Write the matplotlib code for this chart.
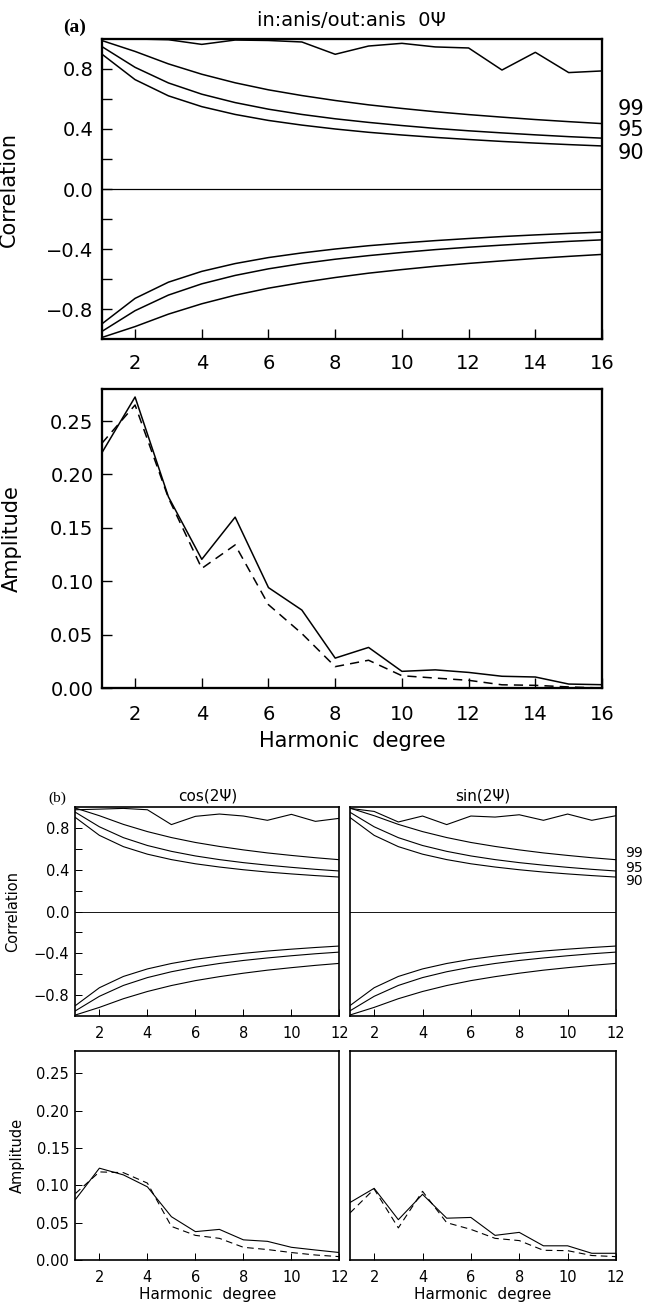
import numpy as np
import matplotlib.pyplot as plt

plt.rcParams['font.family'] = ['DejaVu Sans']

# harmonic degrees
deg_a = np.arange(1, 17)
deg_b = np.arange(1, 13)

# significance levels of the correlation coefficient
sig99 = [0.990, 0.917, 0.834, 0.765, 0.708, 0.661, 0.623, 0.590,
         0.561, 0.537, 0.515, 0.496, 0.479, 0.463, 0.449, 0.436]
sig95 = [0.950, 0.811, 0.707, 0.632, 0.576, 0.532, 0.497, 0.468,
         0.444, 0.423, 0.404, 0.388, 0.374, 0.361, 0.349, 0.339]
sig90 = [0.900, 0.729, 0.621, 0.549, 0.497, 0.457, 0.426, 0.400,
         0.378, 0.360, 0.344, 0.330, 0.317, 0.306, 0.296, 0.287]

# (a) in:anis / out:anis
corr_a = [1.0, 1.0, 0.995, 0.964, 0.993, 0.99, 0.98, 0.898,
          0.953, 0.971, 0.947, 0.94, 0.793, 0.911, 0.776, 0.787]
amp_a_in = [0.220, 0.2725, 0.179, 0.1205, 0.160, 0.094, 0.073, 0.028,
            0.038, 0.0156, 0.017, 0.0146, 0.011, 0.0103, 0.0037, 0.0031]
amp_a_out = [0.229, 0.265, 0.178, 0.112, 0.134, 0.078, 0.051, 0.020,
             0.026, 0.0115, 0.0093, 0.0072, 0.003, 0.0025, 0.001, 0.0]

# (b) cos(2psi) and sin(2psi)
corr_cos = [0.974, 0.98, 0.987, 0.974, 0.832, 0.911, 0.933, 0.914,
            0.873, 0.93, 0.863, 0.892]
corr_sin = [0.987, 0.958, 0.857, 0.914, 0.832, 0.914, 0.904, 0.926,
            0.873, 0.933, 0.873, 0.917]
amp_cos_in = [0.081, 0.123, 0.114, 0.098, 0.058, 0.038, 0.041, 0.027,
              0.025, 0.017, 0.0134, 0.010]
amp_cos_out = [0.089, 0.118, 0.117, 0.103, 0.045, 0.033, 0.029, 0.017,
               0.014, 0.010, 0.0067, 0.0045]
amp_sin_in = [0.077, 0.096, 0.054, 0.088, 0.056, 0.057, 0.033, 0.037,
              0.019, 0.019, 0.009, 0.009]
amp_sin_out = [0.063, 0.095, 0.043, 0.092, 0.050, 0.041, 0.029, 0.026,
               0.013, 0.0125, 0.006, 0.0045]

fig = plt.figure(figsize=(6.45, 13.08), dpi=100)


def style(ax, xmax, fs, tlen, lw, xpad, ypad):
    for s in ax.spines.values():
        s.set_linewidth(lw)
    ax.set_xlim(1, xmax)
    ax.set_xticks(np.arange(2, xmax + 1, 2))
    ax.tick_params(axis='x', direction='in', length=tlen, width=lw * 0.6,
                   labelsize=fs, pad=xpad)
    ax.tick_params(axis='y', which='both', direction='in', length=tlen,
                   width=lw * 0.6, labelsize=fs, pad=ypad)


def corr_panel(ax, x, corr, n, lw, fs, tlen, xpad, ypad):
    k = len(x)
    ax.plot(x, corr, color='k', lw=lw)
    for s in (sig99, sig95, sig90):
        ax.plot(x, s[:k], color='k', lw=lw)
        ax.plot(x, [-v for v in s[:k]], color='k', lw=lw)
    ax.axhline(0, color='k', lw=lw * 0.8)
    ax.set_ylim(-1, 1)
    ax.set_yticks(np.arange(-0.8, 0.81, 0.4))
    ax.set_yticks(np.arange(-0.6, 0.61, 0.4), minor=True)
    ax.set_yticklabels(['\u22120.8', '\u22120.4', '0.0', '0.4', '0.8'])
    style(ax, n, fs, tlen, lw * 1.5, xpad, ypad)


def amp_panel(ax, x, a_in, a_out, lw, fs, tlen, xpad, ypad):
    ax.plot(x, a_in, color='k', lw=lw)
    ax.plot(x, a_out, color='k', lw=lw, ls=(0, (6, 4)))
    ax.set_ylim(0, 0.28)
    ax.set_yticks(np.arange(0, 0.26, 0.05))
    ax.set_yticklabels(['0.00', '0.05', '0.10', '0.15', '0.20', '0.25'])
    style(ax, len(x), fs, tlen, lw * 1.5, xpad, ypad)


# ---- (a)
ax1 = fig.add_axes([0.1577, 0.7408, 0.7757, 0.2294])
corr_panel(ax1, deg_a, corr_a, 16, 1.1, 14, 7, 11, 6)
ax1.set_ylabel('Correlation', fontsize=15)
ax1.yaxis.set_label_coords(-0.165, 0.5)
ax1.set_title('in:anis/out:anis  0\u03a8', fontsize=14, pad=9)
fig.text(75 / 645, 1 - 27 / 1308, '(a)', fontsize=14, fontweight='bold',
         family='Liberation Serif', ha='center', va='center')
for lab, yv in (('99', 0.535), ('95', 0.39), ('90', 0.241)):
    ax1.text(16.48, yv, lab, fontsize=15, va='center', ha='left', clip_on=False)

ax2 = fig.add_axes([0.1577, 0.4740, 0.7757, 0.2286])
amp_panel(ax2, deg_a, amp_a_in, amp_a_out, 1.1, 14, 7, 12, 6)
ax2.set_ylabel('Amplitude', fontsize=15)
ax2.yaxis.set_label_coords(-0.159, 0.5)
ax2.set_xlabel('Harmonic  degree', fontsize=15, labelpad=5)

# ---- (b)
ax3 = fig.add_axes([0.1169, 0.2232, 0.4093, 0.1598])
corr_panel(ax3, deg_b, corr_cos, 12, 0.8, 10.5, 5, 7, 4.5)
ax3.set_ylabel('Correlation', fontsize=10.5)
ax3.yaxis.set_label_coords(-0.21, 0.5)
ax3.set_title('cos(2\u03a8)', fontsize=11, pad=5)
fig.text(57 / 645, 1 - 798 / 1308, '(b)', fontsize=11,
         family='Liberation Serif', ha='center', va='center')

ax4 = fig.add_axes([0.5426, 0.2232, 0.4124, 0.1598])
corr_panel(ax4, deg_b, corr_sin, 12, 0.8, 10.5, 5, 7, 4.5)
ax4.tick_params(axis='y', which='both', left=False, labelleft=False)
ax4.set_title('sin(2\u03a8)', fontsize=11, pad=5)
for lab, yv in (('99', 0.56), ('95', 0.415), ('90', 0.29)):
    ax4.text(12.37, yv, lab, fontsize=10, va='center', ha='left',
             clip_on=False)

ax5 = fig.add_axes([0.1169, 0.0367, 0.4093, 0.1598])
amp_panel(ax5, deg_b, amp_cos_in, amp_cos_out, 0.8, 10.5, 5, 7, 4.5)
ax5.set_ylabel('Amplitude', fontsize=10.5)
ax5.yaxis.set_label_coords(-0.19, 0.5)
ax5.set_xlabel('Harmonic  degree', fontsize=11, labelpad=2)

ax6 = fig.add_axes([0.5426, 0.0367, 0.4124, 0.1598])
amp_panel(ax6, deg_b, amp_sin_in, amp_sin_out, 0.8, 10.5, 5, 7, 4.5)
ax6.tick_params(axis='y', left=False, labelleft=False)
ax6.set_xlabel('Harmonic  degree', fontsize=11, labelpad=2)

fig.savefig('out.png', dpi=100)
